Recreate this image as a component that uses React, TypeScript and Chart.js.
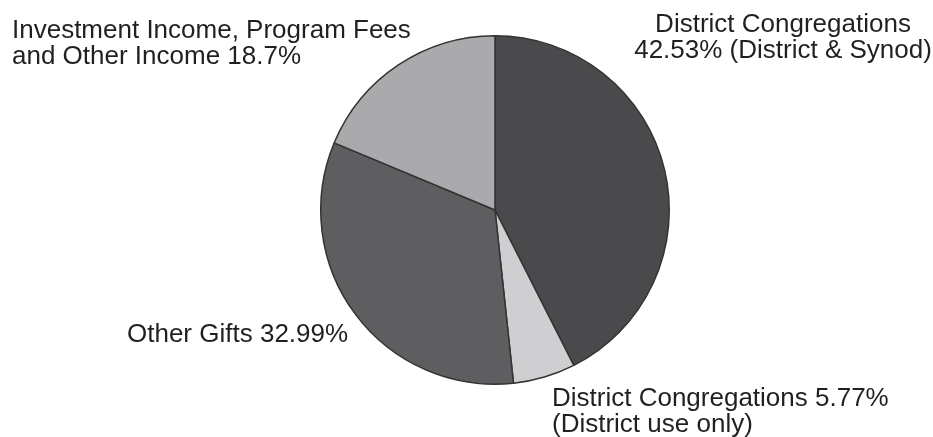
import React, { useEffect, useRef } from "react";
import { Chart, registerables } from "chart.js";

Chart.register(...registerables);

const categories = [
  "District Congregations (District & Synod)",
  "District Congregations (District use only)",
  "Other Gifts",
  "Investment Income, Program Fees and Other Income",
];
const shares = [42.53, 5.77, 32.99, 18.7];
const sliceColors = ["#4a4a4c", "#cfcfd1", "#5e5e60", "#aaaaad"];

type Lbl = { lines: string[]; x: number; y: number; align: CanvasTextAlign };
const labels: Lbl[] = [
  { lines: ["District Congregations", "42.53% (District & Synod)"], x: 783, y: 32, align: "center" },
  { lines: ["District Congregations 5.77%", "(District use only)"], x: 552, y: 406, align: "left" },
  { lines: ["Other Gifts 32.99%"], x: 127, y: 342, align: "left" },
  { lines: ["Investment Income, Program Fees", "and Other Income 18.7%"], x: 12, y: 38, align: "left" },
];

const FONT = '26px "Liberation Sans", Arial, sans-serif';

const labelPlugin = {
  id: "outsideLabels",
  afterDraw(chart: Chart) {
    const ctx = chart.ctx;
    ctx.save();
    ctx.font = FONT;
    ctx.fillStyle = "#231f20";
    ctx.textBaseline = "alphabetic";
    labels.forEach((l) => {
      ctx.textAlign = l.align;
      l.lines.forEach((line, i) => ctx.fillText(line, l.x, l.y + i * 25.5));
    });
    ctx.restore();
  },
};

export default function App() {
  const ref = useRef<HTMLCanvasElement | null>(null);
  useEffect(() => {
    document.body.style.margin = "0";
    if (!ref.current) return;
    const chart = new Chart(ref.current, {
      type: "pie",
      data: {
        labels: categories,
        datasets: [
          {
            data: shares,
            backgroundColor: sliceColors,
            borderColor: "#333335",
            borderWidth: 1.5,
          },
        ],
      },
      options: {
        animation: false,
        responsive: false,
        layout: { padding: { top: 35, bottom: 52, left: 320, right: 263 } },
        plugins: {
          legend: { display: false },
          tooltip: { enabled: false },
          title: { display: false },
        },
      },
      plugins: [labelPlugin],
    });
    return () => chart.destroy();
  }, []);
  return (
    <div style={{ width: 933, height: 437, background: "#ffffff" }}>
      <canvas ref={ref} width={933} height={437} />
    </div>
  );
}
